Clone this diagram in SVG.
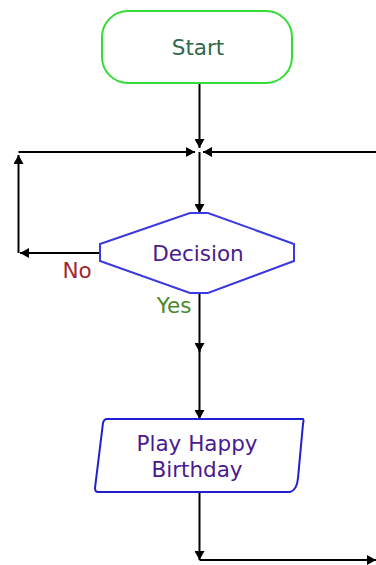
<svg xmlns="http://www.w3.org/2000/svg" width="376" height="565" viewBox="0 0 376 565">
<defs>
<marker id="ah" viewBox="0 0 9 10" refX="9" refY="5" markerWidth="9" markerHeight="10" markerUnits="userSpaceOnUse" orient="auto">
<path d="M0,0 L9,5 L0,10 z" fill="#000"/>
</marker>
</defs>
<style>
.ln{stroke:#000;stroke-width:2;fill:none}
.t{font-family:"DejaVu Sans",Verdana,sans-serif;font-size:21.5px;text-anchor:middle}
</style>
<rect width="376" height="565" fill="#fff"/>
<g id="connectors">
<path class="ln" d="M199.5,83 V148" marker-end="url(#ah)"/>
<path class="ln" d="M18.5,253 V155" marker-end="url(#ah)"/>
<path class="ln" d="M18.5,152 H195" marker-end="url(#ah)"/>
<path class="ln" d="M376,152 H203" marker-end="url(#ah)"/>
<path class="ln" d="M199.5,152 V213" marker-end="url(#ah)"/>
<path class="ln" d="M100,253 H20" marker-end="url(#ah)"/>
<path class="ln" d="M199.5,293 V352" marker-end="url(#ah)"/>
<path class="ln" d="M199.5,350 V419" marker-end="url(#ah)"/>
<path class="ln" d="M199.5,493 V560" marker-end="url(#ah)"/>
<path class="ln" d="M199.5,560 H376" marker-end="url(#ah)"/>
<text class="t" x="77" y="278" fill="#a0282e">No</text>
<text class="t" x="174" y="313" fill="#4a8a2a">Yes</text>
</g>
<g id="start">
<rect x="102" y="11" width="190" height="72" rx="26" ry="26" fill="#fff" stroke="#33dd33" stroke-width="2"/>
<text class="t" x="198" y="55" fill="#2f6a4a">Start</text>
</g>
<g id="decision">
<path d="M100,244 L190,213 H208 L294,244 V261 L208,293 H190 L100,261 Z" fill="#fff" stroke="#3a3ae0" stroke-width="2"/>
<text class="t" x="198" y="261" fill="#4a1a8f">Decision</text>
</g>
<g id="play">
<path d="M107,419 H303 Q304,420 303,424 L298,478 Q297,490 290,492 H98 Q95,492 95,488 L103,423 Q104,419 107,419 Z" fill="#fff" stroke="#2020d0" stroke-width="2"/>
<text class="t" x="197" y="451" fill="#4a1a8f">Play Happy</text>
<text class="t" x="197" y="477" fill="#4a1a8f">Birthday</text>
</g>
</svg>
